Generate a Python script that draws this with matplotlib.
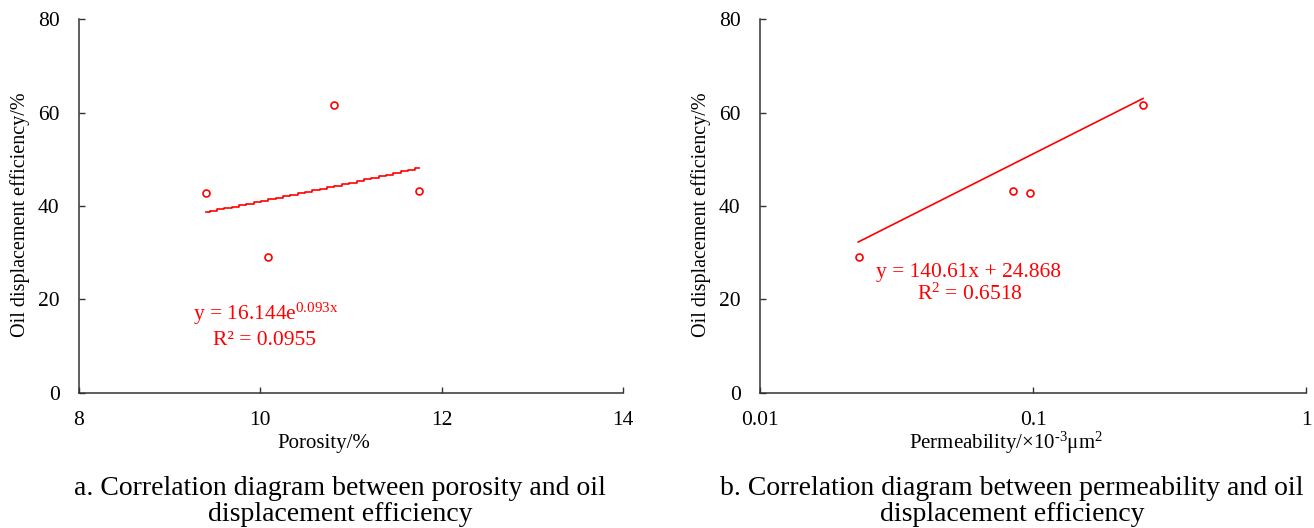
import numpy as np
import matplotlib.pyplot as plt

plt.rcParams['font.family'] = ['Liberation Serif', 'DejaVu Serif']
plt.rcParams['mathtext.fontset'] = 'custom'
plt.rcParams['mathtext.rm'] = 'Liberation Serif'
plt.rcParams['mathtext.it'] = 'Liberation Serif:italic'

# porosity vs displacement efficiency
porosity = [9.40, 10.08, 10.81, 11.75]
eff_a = [42.8, 29.1, 61.6, 43.3]
exp_a, exp_b = 16.144, 0.093

# permeability vs displacement efficiency
perm = [0.0230, 0.0846, 0.0975, 0.253]
eff_b = [29.1, 43.3, 42.8, 61.6]
trend_x = [0.0229, 0.253]
trend_y = [32.3, 63.0]

red = '#ff0000'


def style_axes(ax):
    for s in ['top', 'right']:
        ax.spines[s].set_visible(False)
    for s in ['left', 'bottom']:
        ax.spines[s].set_color('#333333')
        ax.spines[s].set_linewidth(1.1)
    ax.set_ylim(0, 80)
    ax.set_yticks([0, 20, 40, 60, 80])
    ax.tick_params(axis='both', direction='in', length=4, width=1.0, color='#333333', labelsize=15.5)
    ax.tick_params(axis='y', pad=14)
    ax.tick_params(axis='x', pad=13)
    ax.set_ylabel('Oil displacement efficiency/%', fontsize=14.5, va='center')
    ax.xaxis.label.set_fontsize(15)
    ax.xaxis.label.set_va('center')
    ax.yaxis.set_label_coords(-0.108, 0.476)
    ax.xaxis.set_label_coords(0.45, -0.134)


fig = plt.figure(figsize=(13.14, 5.28), dpi=100)
ax1 = fig.add_axes([0.0601, 0.2557, 0.4140, 0.7083])
ax2 = fig.add_axes([0.5784, 0.2557, 0.4155, 0.7083])

# left panel
ax1.set_xlim(8, 14)
ax1.set_xticks([8, 10, 12, 14])
ax1.set_xlabel('Porosity/%')
style_axes(ax1)
ax1.plot(porosity, eff_a, 'o', ms=5, mfc='none', mec=red, mew=1.2)
xs = np.linspace(min(porosity), max(porosity), 30)
ax1.plot(xs, exp_a * np.exp(exp_b * xs), color=red, lw=1.2, drawstyle='steps-mid')
ax1.text(9.26, 15.6, r'y = 16.144e$^{\mathrm{0.093x}}$', color=red, fontsize=15.5, va='baseline')
ax1.text(9.48, 10.3, 'R² = 0.0955', color=red, fontsize=15.5, va='baseline')

# right panel
ax2.set_xscale('log')
ax2.set_xlim(0.01, 1)
ax2.set_xticks([0.01, 0.1, 1])
ax2.set_xticklabels(['0.01', '0.1', '1'])
ax2.minorticks_off()
ax2.set_xlabel('Permeability/×10$^{\\mathrm{\u2010 3}}$μm$^{\\mathrm{2}}$')
style_axes(ax2)
ax2.plot(perm, eff_b, 'o', ms=5, mfc='none', mec=red, mew=1.2)
ax2.plot(trend_x, trend_y, color=red, lw=1.2)
ax2.text(0.0266, 24.8, 'y = 140.61x + 24.868', color=red, fontsize=15.5, va='baseline')
ax2.text(0.0376, 19.9, r'R$^{\mathrm{2}}$ = 0.6518', color=red, fontsize=15.5, va='baseline')

# captions under each panel
cap_kw = dict(ha='center', va='baseline', fontsize=20)
fig.text(0.2588, 0.063, 'a. Correlation diagram between porosity and oil', **cap_kw)
fig.text(0.2588, 0.014, 'displacement efficiency', **cap_kw)
fig.text(0.7700, 0.063, 'b. Correlation diagram between permeability and oil', **cap_kw)
fig.text(0.7700, 0.014, 'displacement efficiency', **cap_kw)

fig.savefig('out.png', dpi=100)
